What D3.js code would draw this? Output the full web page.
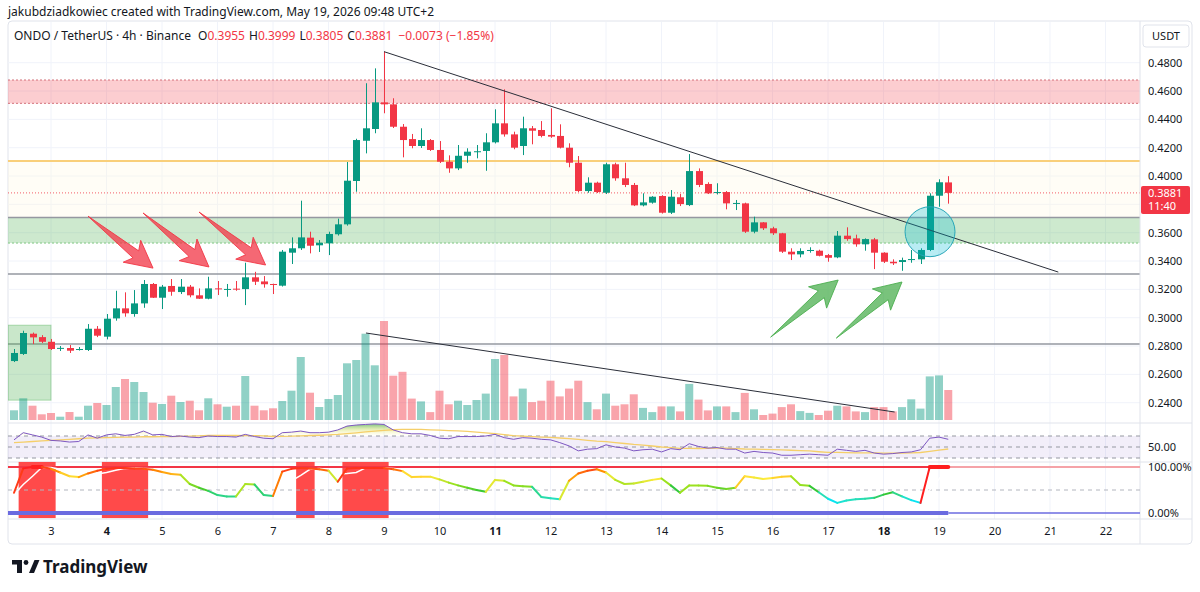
<!DOCTYPE html>
<html lang="en">
<head>
<meta charset="UTF-8">
<title>ONDO / TetherUS 4h - Binance</title>
<script src="https://cdn.jsdelivr.net/npm/d3@7"></script>
<style>
  body { margin: 0; background: #fff; }
  svg text { font-family: "Noto Sans", "DejaVu Sans", sans-serif; fill: #131722; }
</style>
</head>
<body>
<svg id="chart" width="1200" height="592"></svg>
<script>
// 4h candles, first bar May 2 08:00, last bar May 19 04:00
const opens  = [0.2694,0.2744,0.2887,0.2863,0.2830,0.2782,0.2786,0.2774,0.2772,0.2922,0.2866,0.2995,0.3066,0.3026,0.3101,0.3238,0.3141,0.3224,0.3181,0.3219,0.3158,0.3134,0.3207,0.3198,0.3205,0.3202,0.3285,0.3256,0.3238,0.3226,0.3459,0.3490,0.3565,0.3511,0.3525,0.3589,0.3659,0.3965,0.4249,0.4332,0.4520,0.4506,0.4348,0.4261,0.4212,0.4254,0.4184,0.4101,0.4054,0.4143,0.4168,0.4177,0.4238,0.4372,0.4294,0.4212,0.4337,0.4325,0.4290,0.4283,0.4200,0.4094,0.3894,0.3953,0.3882,0.4083,0.3984,0.3937,0.3793,0.3812,0.3859,0.3741,0.3850,0.3795,0.4035,0.3944,0.3882,0.3887,0.3805,0.3807,0.3607,0.3673,0.3631,0.3596,0.3466,0.3447,0.3474,0.3473,0.3442,0.3426,0.3579,0.3560,0.3518,0.3553,0.3459,0.3395,0.3393,0.3410,0.3412,0.3478,0.3861,0.3955];
const highs  = [0.2779,0.2908,0.2895,0.2877,0.2850,0.2800,0.2807,0.2793,0.2955,0.2941,0.3026,0.3190,0.3179,0.3195,0.3266,0.3245,0.3231,0.3273,0.3273,0.3231,0.3207,0.3289,0.3259,0.3238,0.3259,0.3388,0.3324,0.3294,0.3240,0.3478,0.3567,0.3826,0.3607,0.3548,0.3607,0.3699,0.4099,0.4263,0.4655,0.4760,0.4878,0.4549,0.4367,0.4297,0.4337,0.4261,0.4247,0.4146,0.4219,0.4196,0.4219,0.4302,0.4471,0.4612,0.4313,0.4419,0.4353,0.4388,0.4478,0.4365,0.4231,0.4141,0.3991,0.3960,0.4094,0.4094,0.4094,0.3951,0.3878,0.3858,0.3865,0.3901,0.3873,0.4155,0.4054,0.3956,0.3949,0.3894,0.3831,0.3812,0.3713,0.3675,0.3642,0.3599,0.3490,0.3490,0.3497,0.3480,0.3450,0.3612,0.3638,0.3586,0.3560,0.3563,0.3462,0.3412,0.3424,0.3478,0.3490,0.3878,0.3977,0.3999];
const lows   = [0.2687,0.2737,0.2814,0.2821,0.2772,0.2765,0.2751,0.2768,0.2765,0.2863,0.2847,0.2979,0.3007,0.3007,0.3070,0.3139,0.3061,0.3155,0.3167,0.3144,0.3132,0.3130,0.3160,0.3148,0.3190,0.3089,0.3231,0.3212,0.3167,0.3220,0.3379,0.3478,0.3454,0.3464,0.3442,0.3580,0.3650,0.3889,0.4160,0.4302,0.4443,0.4339,0.4132,0.4196,0.4198,0.4177,0.4092,0.4023,0.4042,0.4094,0.4125,0.4037,0.4230,0.4278,0.4189,0.4148,0.4224,0.4273,0.4270,0.4195,0.4062,0.3887,0.3882,0.3880,0.3873,0.3967,0.3922,0.3788,0.3786,0.3805,0.3735,0.3732,0.3788,0.3788,0.3922,0.3873,0.3870,0.3765,0.3760,0.3598,0.3596,0.3619,0.3584,0.3457,0.3407,0.3426,0.3459,0.3433,0.3395,0.3420,0.3543,0.3501,0.3473,0.3343,0.3386,0.3372,0.3331,0.3388,0.3379,0.3470,0.3783,0.3805];
const closes = [0.2751,0.2892,0.2861,0.2830,0.2779,0.2787,0.2767,0.2779,0.2922,0.2873,0.2993,0.3066,0.3031,0.3101,0.3238,0.3141,0.3219,0.3183,0.3219,0.3158,0.3134,0.3207,0.3200,0.3203,0.3198,0.3285,0.3254,0.3236,0.3233,0.3466,0.3490,0.3567,0.3508,0.3529,0.3591,0.3659,0.3967,0.4254,0.4337,0.4520,0.4506,0.4348,0.4254,0.4212,0.4254,0.4184,0.4101,0.4054,0.4143,0.4172,0.4175,0.4238,0.4372,0.4294,0.4200,0.4337,0.4320,0.4283,0.4278,0.4200,0.4094,0.3894,0.3953,0.3887,0.4083,0.3984,0.3937,0.3793,0.3814,0.3854,0.3741,0.3854,0.3802,0.4035,0.3937,0.3878,0.3887,0.3807,0.3810,0.3607,0.3673,0.3631,0.3596,0.3466,0.3447,0.3471,0.3478,0.3437,0.3423,0.3579,0.3555,0.3518,0.3555,0.3459,0.3395,0.3384,0.3407,0.3414,0.3478,0.3861,0.3956,0.3881];
const volumes = [9.7,21.7,14.3,5.7,7,3.3,8,3.3,14.3,17,15,33,41,38,28,17.3,16,24.3,18,19.3,9.7,21.7,15.7,13.3,14.3,44,14.3,9.7,11.7,19,29.3,63,27.3,13,21,25,56.7,60,86.3,54.7,99,44.3,48.2,21.4,18.6,7.9,29.3,15.7,19.3,15,20,26.4,61,65,23.6,31.4,17.9,19.3,39.3,23.6,31.4,39.3,17.9,10.7,26.4,14.3,15.7,25.7,12.1,7.9,13.6,13.6,8.6,36.1,20.4,9.6,13.6,13.6,7.9,27.1,10.7,5,6.4,12.9,15.7,8.9,7.1,5,9.3,14.3,13.6,8.6,7.9,12.9,12.9,8.6,12.9,20.7,11.4,43.6,44.6,30];

// RSI(14) and its moving average
const rsi = [63,76,72,68,62,61,59,60,72,66,72,74,71,73,79,72,73,69,70,68,67,70,69,69,68,73,69,66,65,76,77,79,76,76,77,81,88,90,91,92,91,81,76,74,74,71,66,65,69,69,69,70,73,67,64,67,66,64,63,58,52,43,46,47,54,50,48,43,45,46,41,47,45,56,51,48,49,46,46,39,42,40,39,35,35,36,37,36,35,46,44,42,44,39,37,38,40,41,45,66,68,64];
const rsiMa = [58,59,60,61,62,63,64,65,66,66.5,67,67.5,68,68,68.9,68.6,68.7,68.8,69.4,69.9,70.4,71.1,70.9,71.1,70.9,70.8,70.6,70.1,69.1,69.4,69.7,70.4,70.9,71.4,72.1,72.9,74.3,75.8,77.4,78.8,80.4,81.4,82.2,82.1,81.9,81.3,80.6,79.8,79.2,78.4,77,75.6,74.3,72.5,70.6,69.6,68.9,68.1,67.4,66.4,65.4,63.9,62.2,60.6,59.6,58.1,56.4,54.6,53.3,51.8,50,48.8,47.5,47.4,47.3,47.6,47.9,47.8,47.2,46.4,46,45.8,45.4,44.6,44.1,43.4,42.8,41.4,40.2,40.1,39.7,39.4,39.3,39.3,38.9,38.8,38.9,39.3,40,42.1,44.4,46.4];

// oscillator (0-100 %) and its white signal line
const stoch = [44,97,100,100,96,88,80,78,86,92,96,98,98,97,96,94,89,85,83,63,55,48,39,36,36,63,62,39,37,90,96,98,97,95,92,68,97,98,98,98,98,95,91,78,79,79,73,66,60,55,50,46,72,70,60,58,57,35,32,30,70,86,92,95,88,72,63,64,68,72,75,60,44,60,60,59,55,52,55,80,77,74,76,79,80,61,59,45,31,22,27,30,31,33,40,45,36,28,22,100,100,100];
const stochSignal = [40,62,80,99,99,95,88,82,81,85,88,93,97,98,97,96,93,89,86,77,67,55,47,41,37,45,54,55,46,55,70,82,95,97,95,85,86,88,98,98,98,97,95,88,83,79,77,73,66,60,55,50,56,63,67,63,58,50,41,32,44,62,83,91,92,85,74,66,65,68,72,69,60,55,55,60,58,55,54,62,71,77,76,76,78,73,67,55,45,33,27,26,29,31,35,39,40,36,29,50,74,100];
const highlightRanges = [[1, 4], [10, 14], [31, 32], [36, 40]];

const priceTicks = [0.24,0.26,0.28,0.30,0.32,0.34,0.36,0.38,0.40,0.42,0.44,0.46,0.48];
const hiddenTickLabels = [0.38]; // covered by the last price tag

// drawings, as [bar index, price]
const resistanceZone = [0.4513, 0.4678];
const supportZone = [0.3527, 0.3704];
const yellowLevel = 0.4106;
const grayLevels = [0.3707, 0.3308, 0.2814];
const priceTrend = [[40, 0.4878], [112.9, 0.3322]];
const volumeTrend = [[38.05, 87], [95.2, 8]];
const redArrows = [[[8, 0.3717], [15.03, 0.3350]], [[13.95, 0.3739], [21.08, 0.3358]], [[20, 0.3746], [27.2, 0.3372]]];
const greenArrows = [[[81.8, 0.2863], [89.1, 0.3266]], [[88.9, 0.2856], [96, 0.3252]]];
const baseBox = [[-0.65, 0.2947], [4, 0.2418]];
const breakoutCircle = [99.03, 0.3607, 2.7];

const UP = "#089981", DOWN = "#f23645";
const svg = d3.select("#chart");
const L = 8, R = 1140;

const T0 = Date.UTC(2026, 4, 2, 8);
const H4 = 4 * 3600 * 1000;
const at = i => new Date(T0 + i * H4);
const xt = d3.scaleUtc().domain([at(-0.65), at(121.73)]).range([L, R]);
const xi = i => xt(at(i));

const y = d3.scaleLinear().domain([0.24, 0.48]).range([402.7, 62.7]);
const yv = d3.scaleLinear().domain([0, 99]).range([420, 321]);
const yr = d3.scaleLinear().domain([30, 70]).range([458, 436]);
const ys = d3.scaleLinear().domain([0, 100]).range([513, 467]);

// header
svg.append("text").attr("x", 8).attr("y", 16).attr("font-size", 12)
  .text("jakubdziadkowiec created with TradingView.com, May 19, 2026 09:48 UTC+2");

// frame
svg.append("rect").attr("x", L).attr("y", 21).attr("width", 1184).attr("height", 523)
  .attr("rx", 4).attr("fill", "#fff").attr("stroke", "#e0e3eb");

const ticksDays = xt.ticks(d3.utcDay.every(1));

// grid
const grid = svg.append("g");
grid.selectAll("line.v").data(ticksDays).join("line")
  .attr("x1", d => xt(d)).attr("x2", d => xt(d)).attr("y1", 22).attr("y2", 519)
  .attr("stroke", "#f0f3fa");
grid.selectAll("line.h").data(priceTicks).join("line")
  .attr("x1", L).attr("x2", R).attr("y1", d => y(d)).attr("y2", d => y(d))
  .attr("stroke", "#f0f3fa");

// price pane drawings
const main = svg.append("g");
main.append("clipPath").attr("id", "pane").append("rect")
  .attr("x", L).attr("y", 22).attr("width", R - L).attr("height", 401);
main.attr("clip-path", "url(#pane)");

main.append("rect").attr("x", L).attr("width", R - L)
  .attr("y", y(yellowLevel)).attr("height", y(supportZone[1]) - y(yellowLevel))
  .attr("fill", "#fff8e1").attr("opacity", 0.3);
main.append("rect").attr("x", L).attr("width", R - L)
  .attr("y", y(resistanceZone[1])).attr("height", y(resistanceZone[0]) - y(resistanceZone[1]))
  .attr("fill", "rgba(242,54,69,0.25)");
resistanceZone.forEach(p => main.append("line").attr("x1", L).attr("x2", R)
  .attr("y1", y(p)).attr("y2", y(p)).attr("stroke", "#c2434f").attr("stroke-dasharray", "2,2").attr("opacity", 0.7));
main.append("rect").attr("x", L).attr("width", R - L)
  .attr("y", y(supportZone[1])).attr("height", y(supportZone[0]) - y(supportZone[1]))
  .attr("fill", "rgba(76,175,80,0.28)");
main.append("line").attr("x1", L).attr("x2", R).attr("y1", y(supportZone[0])).attr("y2", y(supportZone[0]))
  .attr("stroke", "#81c784").attr("stroke-dasharray", "2,2");
main.append("line").attr("x1", L).attr("x2", R).attr("y1", y(yellowLevel)).attr("y2", y(yellowLevel))
  .attr("stroke", "#f9cf7a").attr("stroke-width", 2);
grayLevels.forEach(p => main.append("line").attr("x1", L).attr("x2", R)
  .attr("y1", y(p)).attr("y2", y(p)).attr("stroke", "#9598a1").attr("stroke-width", 1.5));
main.append("rect")
  .attr("x", xi(baseBox[0][0])).attr("y", y(baseBox[0][1]))
  .attr("width", xi(baseBox[1][0]) - xi(baseBox[0][0])).attr("height", y(baseBox[1][1]) - y(baseBox[0][1]))
  .attr("fill", "rgba(76,175,80,0.3)").attr("stroke", "rgba(76,175,80,0.4)");

// last price line
main.append("line").attr("x1", L).attr("x2", R)
  .attr("y1", y(closes[closes.length - 1])).attr("y2", y(closes[closes.length - 1]))
  .attr("stroke", DOWN).attr("stroke-dasharray", "1,2").attr("opacity", 0.8);

// volume
const idx = d3.range(closes.length);
main.selectAll("rect.vol").data(idx).join("rect").attr("class", "vol")
  .attr("x", i => xi(i) - 4).attr("width", 8)
  .attr("y", i => yv(volumes[i])).attr("height", i => yv(0) - yv(volumes[i]))
  .attr("fill", i => closes[i] >= opens[i] ? "rgba(8,153,129,0.45)" : "rgba(242,54,69,0.45)");

main.append("line")
  .attr("x1", xi(volumeTrend[0][0])).attr("y1", yv(volumeTrend[0][1]))
  .attr("x2", xi(volumeTrend[1][0])).attr("y2", yv(volumeTrend[1][1]))
  .attr("stroke", "#2a2e39").attr("stroke-width", 1);

// candles
const cg = main.selectAll("g.c").data(idx).join("g")
  .attr("fill", i => closes[i] >= opens[i] ? UP : DOWN)
  .attr("stroke", i => closes[i] >= opens[i] ? UP : DOWN);
cg.append("line").attr("x1", i => Math.round(xi(i)) + 0.5).attr("x2", i => Math.round(xi(i)) + 0.5)
  .attr("y1", i => y(highs[i])).attr("y2", i => y(lows[i]));
cg.append("rect").attr("stroke", "none")
  .attr("x", i => Math.round(xi(i)) - 3).attr("width", 7)
  .attr("y", i => y(Math.max(opens[i], closes[i])))
  .attr("height", i => Math.max(1, Math.abs(y(opens[i]) - y(closes[i]))));

main.append("line")
  .attr("x1", xi(priceTrend[0][0])).attr("y1", y(priceTrend[0][1]))
  .attr("x2", xi(priceTrend[1][0])).attr("y2", y(priceTrend[1][1]))
  .attr("stroke", "#2a2e39").attr("stroke-width", 1);

function arrow(a, b, color) {
  const x0 = xi(a[0]), y0 = y(a[1]), x1 = xi(b[0]), y1 = y(b[1]);
  const len = Math.hypot(x1 - x0, y1 - y0), ux = (x1 - x0) / len, uy = (y1 - y0) / len;
  const nx = -uy, ny = ux, hl = 22, hw = 14, sw = 4.5;
  const bx = x1 - ux * hl, by = y1 - uy * hl;
  const pts = [[x0, y0], [bx + nx * sw, by + ny * sw], [bx - ux * 5 + nx * hw, by - uy * 5 + ny * hw],
    [x1, y1], [bx - ux * 5 - nx * hw, by - uy * 5 - ny * hw], [bx - nx * sw, by - ny * sw]];
  main.append("path").attr("d", "M" + pts.join("L") + "Z")
    .attr("fill", color).attr("fill-opacity", 0.75).attr("stroke", color).attr("stroke-opacity", 0.9);
}
redArrows.forEach(d => arrow(d[0], d[1], "#f23645"));
greenArrows.forEach(d => arrow(d[0], d[1], "#4caf50"));

main.append("circle")
  .attr("cx", xi(breakoutCircle[0])).attr("cy", y(breakoutCircle[1]))
  .attr("r", xi(breakoutCircle[2]) - xi(0))
  .attr("fill", "rgba(0,188,212,0.28)").attr("stroke", "#26a6b8").attr("stroke-width", 1);

// pane separators and scale border
[423, 462, 519].forEach(v => svg.append("line").attr("x1", L).attr("x2", 1192)
  .attr("y1", v).attr("y2", v).attr("stroke", "#e0e3eb"));
svg.append("line").attr("x1", R).attr("x2", R).attr("y1", 21).attr("y2", 544).attr("stroke", "#e0e3eb");

// RSI pane
const rg = svg.append("g");
rg.append("rect").attr("x", L).attr("width", R - L).attr("y", yr(70)).attr("height", yr(30) - yr(70))
  .attr("fill", "rgba(126,87,194,0.1)");
[70, 50, 30].forEach(v => rg.append("line").attr("x1", L).attr("x2", R)
  .attr("y1", yr(v)).attr("y2", yr(v)).attr("stroke", "#9598a1").attr("stroke-dasharray", "4,4"));
const defs = svg.append("defs");
const ob = defs.append("linearGradient").attr("id", "ob").attr("gradientUnits", "userSpaceOnUse")
  .attr("x1", 0).attr("x2", 0).attr("y1", yr(95)).attr("y2", yr(70));
ob.append("stop").attr("offset", 0).attr("stop-color", "#2e9e5b").attr("stop-opacity", 0.85);
ob.append("stop").attr("offset", 0.6).attr("stop-color", "#d4e157").attr("stop-opacity", 0.35);
ob.append("stop").attr("offset", 1).attr("stop-color", "#fff176").attr("stop-opacity", 0);
rg.append("path").datum(idx)
  .attr("d", d3.area().x(i => xi(i)).y0(yr(70)).y1(i => yr(Math.max(70, rsi[i]))))
  .attr("fill", "url(#ob)");
rg.append("path").datum(idx)
  .attr("d", d3.line().x(i => xi(i)).y(i => yr(rsiMa[i])))
  .attr("fill", "none").attr("stroke", "#f5cf6a").attr("stroke-width", 1.3);
rg.append("path").datum(idx)
  .attr("d", d3.line().x(i => xi(i)).y(i => yr(rsi[i])))
  .attr("fill", "none").attr("stroke", "#7e57c2").attr("stroke-width", 1);

// oscillator pane
const sg = svg.append("g");
sg.selectAll("rect.hl").data(highlightRanges).join("rect")
  .attr("x", d => xi(d[0] - 0.5)).attr("width", d => xi(d[1] + 0.5) - xi(d[0] - 0.5))
  .attr("y", ys(111)).attr("height", ys(-11) - ys(111))
  .attr("fill", "#ff3b3b").attr("opacity", 0.92);
const lastX = xi(closes.length - 1);
sg.append("line").attr("x1", L).attr("x2", lastX).attr("y1", ys(100)).attr("y2", ys(100))
  .attr("stroke", "#f23645").attr("stroke-width", 2);
sg.append("line").attr("x1", lastX).attr("x2", R).attr("y1", ys(100)).attr("y2", ys(100))
  .attr("stroke", "#f5a3a8").attr("stroke-width", 2);
sg.append("line").attr("x1", L).attr("x2", R).attr("y1", ys(50)).attr("y2", ys(50))
  .attr("stroke", "#b2b5be").attr("stroke-dasharray", "4,4");
sg.append("line").attr("x1", L).attr("x2", lastX).attr("y1", ys(0)).attr("y2", ys(0))
  .attr("stroke", "#6b6be0").attr("stroke-width", 4);
sg.append("line").attr("x1", lastX).attr("x2", R).attr("y1", ys(0)).attr("y2", ys(0))
  .attr("stroke", "#6b6be0").attr("stroke-width", 1.5);
sg.append("path").datum(idx)
  .attr("d", d3.line().x(i => xi(i)).y(i => ys(stochSignal[i])))
  .attr("fill", "none").attr("stroke", "#ffffff").attr("stroke-width", 1.5);
const rainbow = d3.scaleLinear()
  .domain([20, 30, 45, 60, 76, 88, 100])
  .range(["#00e5ff", "#26e0c0", "#34c734", "#9be21f", "#ffeb3b", "#ff8f00", "#ff1f1f"]);
// each segment takes the colour of the value it runs to
sg.selectAll("line.seg").data(idx.slice(0, -1)).join("line")
  .attr("x1", i => xi(i)).attr("y1", i => ys(stoch[i]))
  .attr("x2", i => xi(i + 1)).attr("y2", i => ys(stoch[i + 1]))
  .attr("stroke", i => rainbow(stoch[i + 1]))
  .attr("stroke-width", i => stoch[i] === 100 && stoch[i + 1] === 100 ? 4 : 2)
  .attr("stroke-linecap", "round");

// time axis
const xAxis = svg.append("g").attr("transform", "translate(0,524)")
  .call(d3.axisBottom(xt).ticks(d3.utcDay.every(1)).tickFormat(d3.utcFormat("%-d")).tickSize(0));
xAxis.select(".domain").remove();
xAxis.selectAll("text").attr("font-size", 11).attr("fill", "#131722")
  .attr("font-weight", d => d.getUTCDay() === 1 ? "bold" : "normal");

// price axis
const yAxis = svg.append("g").attr("transform", `translate(${R},0)`)
  .call(d3.axisRight(y).tickValues(priceTicks.filter(t => !hiddenTickLabels.includes(t)))
    .tickFormat(d3.format(".4f")).tickSize(0).tickPadding(8));
yAxis.select(".domain").remove();
yAxis.selectAll("text").attr("font-size", 11).attr("fill", "#131722").attr("text-anchor", "start");

svg.append("text").attr("x", 1148).attr("y", yr(50) + 4).attr("font-size", 11).text("50.00");
svg.append("text").attr("x", 1148).attr("y", ys(100) + 4).attr("font-size", 11).text("100.00%");
svg.append("text").attr("x", 1148).attr("y", ys(0) + 4).attr("font-size", 11).text("0.00%");

// last price tag
const lp = y(closes[closes.length - 1]);
svg.append("rect").attr("x", 1141).attr("y", lp - 7).attr("width", 49).attr("height", 28)
  .attr("rx", 2).attr("fill", DOWN);
svg.append("text").attr("x", 1148).attr("y", lp + 4).attr("font-size", 11).style("fill", "#fff").text("0.3881");
svg.append("text").attr("x", 1148).attr("y", lp + 17).attr("font-size", 11).style("fill", "#fff").text("11:40");

// currency box
svg.append("rect").attr("x", 1143).attr("y", 25).attr("width", 46).attr("height", 22)
  .attr("rx", 3).attr("fill", "#fff").attr("stroke", "#e0e3eb");
svg.append("text").attr("x", 1166).attr("y", 40).attr("font-size", 11).attr("text-anchor", "middle").text("USDT");

// legend line
const lg = svg.append("text").attr("x", 14).attr("y", 40).attr("font-size", 12);
lg.append("tspan").text("ONDO / TetherUS · 4h · Binance  ");
[["O", "0.3955"], ["H", "0.3999"], ["L", "0.3805"], ["C", "0.3881"]].forEach(([k, v]) => {
  lg.append("tspan").attr("dx", 4).text(k);
  lg.append("tspan").style("fill", DOWN).text(v);
});
lg.append("tspan").attr("dx", 6).style("fill", DOWN).text("−0.0073 (−1.85%)");

// footer logo
const logo = svg.append("g").attr("fill", "#131722");
logo.append("path").attr("d", "M12,560h10v13h-5v-8.5h-5z");
logo.append("circle").attr("cx", 26).attr("cy", 562.5).attr("r", 2.4);
logo.append("path").attr("d", "M29,573l5.5,-13h5l-5.5,13z");
svg.append("text").attr("x", 43).attr("y", 573).attr("font-size", 17).attr("font-weight", "bold")
  .text("TradingView");
</script>
</body>
</html>
